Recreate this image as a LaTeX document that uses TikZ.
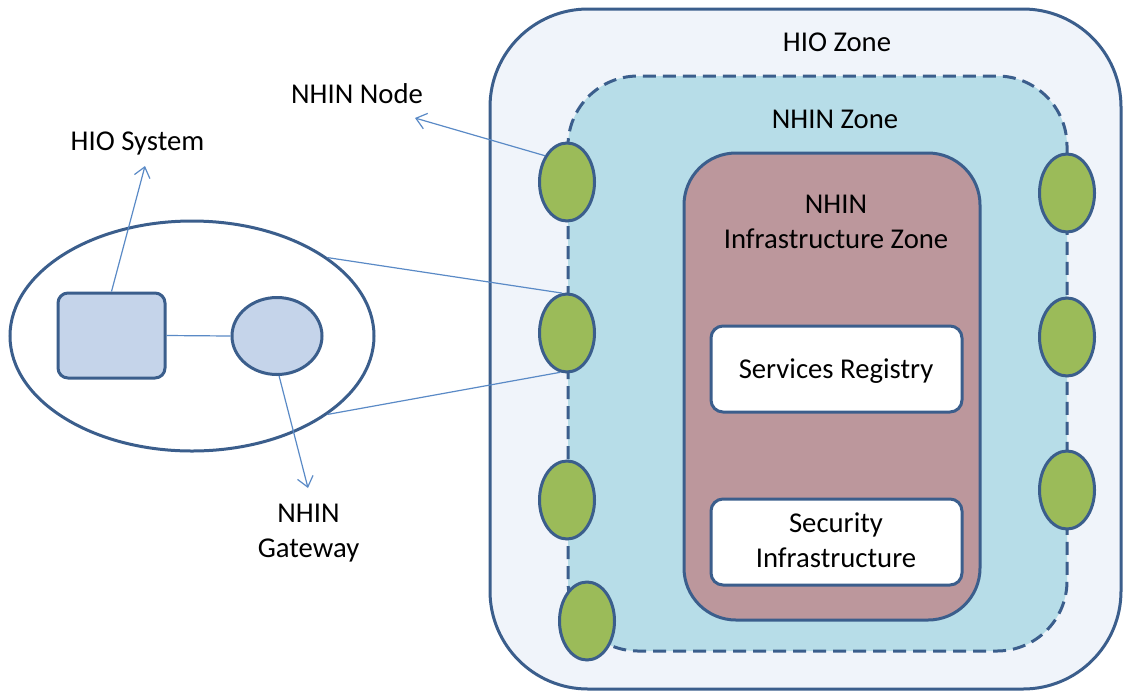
\documentclass[tikz,border=0pt]{standalone}
\usepackage{fontspec}
\setmainfont{Carlito}
\usetikzlibrary{shapes.geometric,arrows.meta}
\definecolor{edgeblue}{HTML}{3B5E8C}
\definecolor{linkblue}{HTML}{5A8AC6}
\definecolor{hiofill}{HTML}{F0F4FA}
\definecolor{nhinfill}{HTML}{B7DDE8}
\definecolor{infrafill}{HTML}{BC979C}
\definecolor{nodegreen}{HTML}{9BBB59}
\definecolor{sysfill}{HTML}{C5D4EA}
\tikzset{
  zoneline/.style={draw=edgeblue, line width=1.5pt},
  nhinnode/.style={ellipse, zoneline, fill=nodegreen, inner sep=0pt,
    minimum width=27.5pt, minimum height=39pt},
  servicebox/.style={zoneline, fill=white, rounded corners=6pt},
  link/.style={draw=linkblue, line width=0.6pt},
  pointer/.style={link, -{Straight Barb[length=5pt,width=8pt]}},
  caption/.style={inner sep=0pt, align=center},
}
\begin{document}
\begin{tikzpicture}[x=0.5pt, y=-0.5pt, font=\fontsize{14.35}{17.5}\selectfont]
\useasboundingbox (0,0) rectangle (1123,692);

% nested zones
\path[zoneline, fill=hiofill, rounded corners=49pt] (490,9) rectangle (1121,689);
\path[zoneline, dash pattern=on 6.5pt off 3.5pt, fill=nhinfill, rounded corners=35pt]
  (568,76) rectangle (1067,651);
\path[zoneline, fill=infrafill, rounded corners=26pt] (684,153) rectangle (980,620);

% registry and security boxes
\path[servicebox] (711,326) rectangle (962,412);
\path[servicebox] (711,499) rectangle (962,585);

% zone labels
\node[caption, anchor=base] (hiozone) at (837,51) {HIO Zone};
\node[caption, anchor=base] (nhinzone) at (835,128) {NHIN Zone};
\node[caption] (infrazone) at (836,222) {NHIN\\Infrastructure Zone};
\node[caption, anchor=base] (registry) at (836,378) {Services Registry};
\node[caption] (security) at (836,540) {Security\\Infrastructure};

% HIO system with its gateway
\node[ellipse, zoneline, fill=white, inner sep=0pt,
  minimum width=182pt, minimum height=115pt] (sys) at (192,336) {};
\node[zoneline, fill=sysfill, rounded corners=5pt, inner sep=0pt,
  minimum width=53.5pt, minimum height=42.5pt] (hiosys) at (111.5,335.5) {};
\node[ellipse, zoneline, fill=sysfill, inner sep=0pt,
  minimum width=45pt, minimum height=38.5pt] (gateway) at (277,336) {};

% NHIN nodes on the zone boundary
\node[nhinnode] (l1) at (567,182) {};
\node[nhinnode] (l2) at (567,333) {};
\node[nhinnode] (l3) at (567,500) {};
\node[nhinnode] (l4) at (587,621) {};
\node[nhinnode] (r1) at (1067,193) {};
\node[nhinnode] (r2) at (1067,337) {};
\node[nhinnode] (r3) at (1067,490) {};

% outside labels
\node[caption, anchor=base] (syslbl) at (137.5,150) {HIO System};
\node[caption, anchor=base] (nodelbl) at (357,103) {NHIN Node};
\node[caption] (gwlbl) at (308.5,533) {NHIN\\Gateway};
\coordinate (systip) at (145,166);
\coordinate (nodetip) at (415,118);
\coordinate (gwtip) at (308,488);

% connectors
\draw[link] (hiosys.east) -- (gateway.west);
\draw[link] (sys.30) -- (l2.97);
\draw[link] (sys.-30) -- (l2.-100);
\draw[pointer] (hiosys.north) -- (systip);
\draw[pointer] (l1.130) -- (nodetip);
\draw[pointer] (gateway.-87) -- (gwtip);
\end{tikzpicture}
\end{document}
